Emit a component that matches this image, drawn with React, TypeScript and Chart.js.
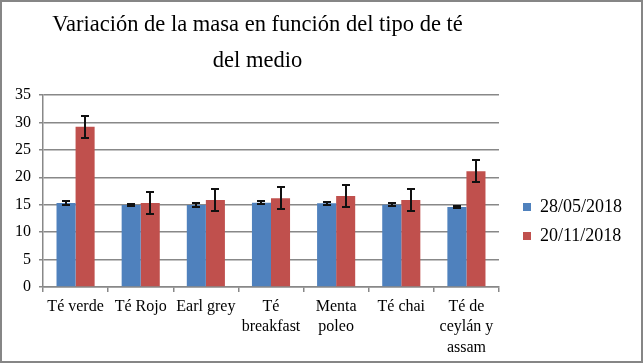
import React, { useEffect, useRef } from "react";
import { Chart, registerables } from "chart.js";

Chart.register(...registerables);

const categories: (string | string[])[] = [
  "Té verde",
  "Té Rojo",
  "Earl grey",
  ["Té", "breakfast"],
  ["Menta", "poleo"],
  "Té chai",
  ["Té de", "ceylán y", "assam"],
];
const series1Label = "28/05/2018";
const series2Label = "20/11/2018";
const series1 = [15.3, 14.95, 14.95, 15.35, 15.25, 15.0, 14.6];
const series2 = [29.2, 15.3, 15.85, 16.2, 16.6, 15.85, 21.1];
const errors1 = [0.35, 0.25, 0.3, 0.25, 0.3, 0.25, 0.25];
const errors2 = [2.0, 2.0, 2.0, 2.05, 2.0, 2.0, 2.0];
const titleLines = ["Variación de la masa en función del tipo de té", "del medio"];

const SERIF = "'Liberation Serif', 'Times New Roman', serif";

const errorBarPlugin = {
  id: "errorBars",
  afterDatasetsDraw(chart: any) {
    const ctx = chart.ctx;
    const yScale = chart.scales.y;
    const errs = [errors1, errors2];
    chart.data.datasets.forEach((ds: any, di: number) => {
      const meta = chart.getDatasetMeta(di);
      meta.data.forEach((el: any, i: number) => {
        const v = ds.data[i];
        const e = errs[di][i];
        const yT = Math.round(yScale.getPixelForValue(v + e));
        const yB = Math.round(yScale.getPixelForValue(v - e));
        const x = Math.round(el.x);
        ctx.save();
        ctx.strokeStyle = "#111";
        ctx.lineWidth = 2;
        ctx.beginPath();
        ctx.moveTo(x, yT);
        ctx.lineTo(x, yB);
        ctx.moveTo(x - 4, yT);
        ctx.lineTo(x + 4, yT);
        ctx.moveTo(x - 4, yB);
        ctx.lineTo(x + 4, yB);
        ctx.stroke();
        ctx.restore();
      });
    });
  },
};

const layoutShiftPlugin = {
  id: "layoutShift",
  afterLayout(chart: any) {
    const lg = chart.legend;
    if (lg) {
      const dx = 13;
      const dy = 40;
      lg.left += dx;
      lg.right += dx;
      lg.top += dy;
      lg.bottom += dy;
    }
    const tb = chart.titleBlock;
    if (tb) {
      const tx = -57;
      tb.left += tx;
      tb.right += tx;
      tb.top += 1;
      tb.bottom += 1;
    }
  },
};

const framePlugin = {
  id: "frame",
  beforeDraw(chart: any) {
    const ctx = chart.ctx;
    ctx.save();
    ctx.fillStyle = "#fff";
    ctx.fillRect(0, 0, chart.width, chart.height);
    ctx.restore();
  },
  afterDraw(chart: any) {
    const ctx = chart.ctx;
    ctx.save();
    ctx.strokeStyle = "#868686";
    ctx.lineWidth = 2;
    ctx.strokeRect(1, 1, chart.width - 2, chart.height - 2);
    ctx.restore();
  },
};

export default function App() {
  const ref = useRef<HTMLCanvasElement>(null);
  useEffect(() => {
    document.body.style.margin = "0";
    const chart = new Chart(ref.current as HTMLCanvasElement, {
      type: "bar",
      data: {
        labels: categories as any,
        datasets: [
          {
            label: series1Label,
            data: series1,
            backgroundColor: "#4F81BD",
            borderWidth: 0,
            barPercentage: 1,
            categoryPercentage: 0.585,
          },
          {
            label: series2Label,
            data: series2,
            backgroundColor: "#C0504D",
            borderWidth: 0,
            barPercentage: 1,
            categoryPercentage: 0.585,
          },
        ],
      },
      options: {
        animation: false,
        responsive: false,
        maintainAspectRatio: false,
        layout: { padding: { left: 10, right: 24, top: 0, bottom: 0 } },
        plugins: {
          tooltip: { enabled: false },
          title: {
            display: true,
            text: titleLines,
            color: "#000",
            font: { family: SERIF, size: 22.5, weight: "normal", lineHeight: 1.6 },
            padding: { top: 6.5, bottom: 16.5 },
          },
          legend: {
            position: "right",
            labels: {
              boxWidth: 8,
              boxHeight: 8,
              color: "#000",
              padding: 11,
              font: { family: SERIF, size: 18 },
            },
          },
        },
        scales: {
          x: {
            grid: {
              offset: true,
              drawOnChartArea: false,
              drawTicks: true,
              tickLength: 5,
              color: "#888888",
              lineWidth: 1.5,
            },
            border: { display: true, color: "#888888", width: 1.5 },
            ticks: {
              color: "#000",
              font: { family: SERIF, size: 16, lineHeight: 1.3 },
              maxRotation: 0,
              autoSkip: false,
              padding: 4,
            },
            afterFit(scale: any) {
              scale.height = 76;
            },
          },
          y: {
            min: 0,
            max: 35,
            grid: { color: "#888888", tickLength: 4, lineWidth: 1.5 },
            border: { display: true, color: "#888888", width: 1.5 },
            ticks: {
              stepSize: 5,
              color: "#000",
              font: { family: SERIF, size: 16 },
              padding: 8,
            },
            afterFit(scale: any) {
              scale.width = 33;
            },
          },
        },
      },
      plugins: [errorBarPlugin, layoutShiftPlugin, framePlugin],
    });
    return () => chart.destroy();
  }, []);
  return <canvas ref={ref} width={643} height={363} style={{ display: "block" }} />;
}
